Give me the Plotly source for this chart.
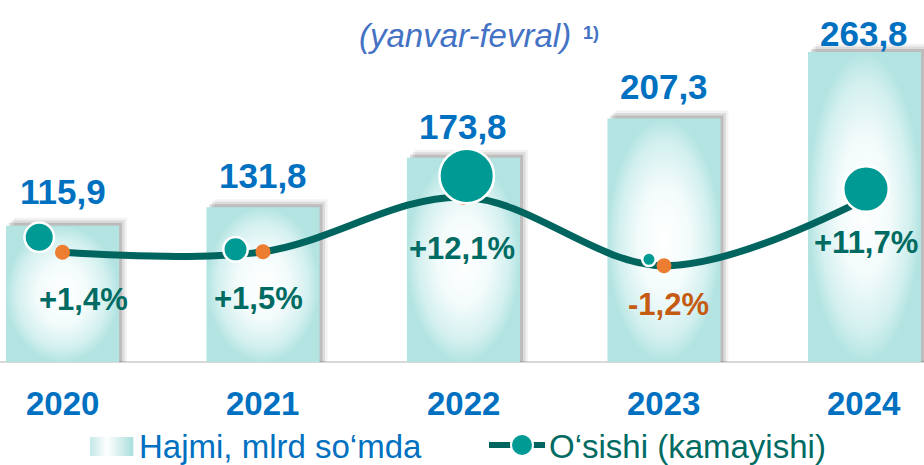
import numpy as np
import plotly.graph_objects as go

# ---------------- data ----------------
years = ["2020", "2021", "2022", "2023", "2024"]
volume = [115.9, 131.8, 173.8, 207.3, 263.8]          # Hajmi, mlrd so'mda
growth = [1.4, 1.5, 12.1, -1.2, 11.7]                 # O'sishi (kamayishi), %
volume_labels = ["115,9", "131,8", "173,8", "207,3", "263,8"]
growth_labels = ["+1,4%", "+1,5%", "+12,1%", "-1,2%", "+11,7%"]
legend_volume = "Hajmi, mlrd so‘mda"
legend_growth = "O‘sishi (kamayishi)"
subtitle = "(yanvar-fevral)"
footnote = "1)"

# ---------------- style ----------------
W, H = 924, 465
FONT = "Liberation Sans, Arial, Helvetica, sans-serif"
BLUE = "#0070c0"
SUB_BLUE = "#4472c4"
TEAL_TXT = "#006b63"
LINE = "#00655e"
CIRCLE = "#009a94"
ORANGE = "#ed7d31"
ORANGE_TXT = "#c55a11"
BAR_EDGE = "#b3e4e2"

PX_X = 200.5      # pixels per category
PX_Y = 1.175      # pixels per volume unit
half = 0.282      # half bar width (category units)

bub_dx = [-0.116, -0.137, 0.016, -0.075, 0.0075]
bub_dy = [2.91, 0.47, 4.12, 1.24, 2.0]
bub_size = [29.5, 24.5, 54.5, 13.5, 45.5]
val_dy = [34, 32, 31, 32, 19]
pct_dy = [-47, -47, -51, -39, -43]
pct_dx = [21, -4, -1.5, 4.5, 1.5]

xs = list(range(len(years)))
fig = go.Figure()

# soft shadow behind the bars (offset up/right)
for dpx, alpha in [(8, 0.05), (5.5, 0.09), (3, 0.14)]:
    fig.add_trace(go.Bar(
        x=xs, y=[v + dpx / PX_Y for v in volume], base=0,
        width=2 * half, offset=-half + dpx / PX_X,
        marker=dict(color=f"rgba(0,0,0,{alpha})", line=dict(width=0)),
        hoverinfo="skip", showlegend=False))

# bar faces with radial gradient
for i, v in zip(xs, volume):
    fig.add_trace(go.Scatter(
        x=[i - half, i + half, i + half, i - half, i - half],
        y=[0, 0, v, v, 0], fill="toself", mode="lines",
        line=dict(width=0, color="rgba(0,0,0,0)"),
        fillgradient=dict(type="radial",
                          colorscale=[[0, "#ffffff"], [0.45, "#f3fbfb"],
                                      [0.8, "#d3f0ef"], [1, BAR_EDGE]]),
        hoverinfo="skip", showlegend=False, name=legend_volume))

# growth line
fig.add_trace(go.Scatter(
    x=xs, y=growth, yaxis="y2", mode="lines+markers",
    line=dict(color=LINE, width=7, shape="spline", smoothing=1),
    marker=dict(size=15, color=ORANGE, line=dict(width=0), opacity=1),
    hoverinfo="skip", showlegend=False, name=legend_growth))

# bubbles
fig.add_trace(go.Scatter(
    x=[x + d for x, d in zip(xs, bub_dx)],
    y=[g + d for g, d in zip(growth, bub_dy)], yaxis="y2", mode="markers",
    marker=dict(size=bub_size, color=CIRCLE, opacity=1,
                line=dict(color="white", width=2.5)),
    hoverinfo="skip", showlegend=False))

ann = []
for i in xs:
    ann.append(dict(x=i, y=volume[i], xref="x", yref="y", yanchor="middle",
                    yshift=val_dy[i], showarrow=False,
                    text=f"<b>{volume_labels[i]}</b>",
                    font=dict(family=FONT, size=35, color=BLUE)))
    ann.append(dict(x=i, y=growth[i], xref="x", yref="y2", yanchor="middle",
                    yshift=pct_dy[i], xshift=pct_dx[i], showarrow=False,
                    text=f"<b>{growth_labels[i]}</b>",
                    font=dict(family=FONT, size=31,
                              color=ORANGE_TXT if growth[i] < 0 else TEAL_TXT)))
    ann.append(dict(x=i, y=1 - 403.5 / H, xref="x", yref="paper", yanchor="middle",
                    showarrow=False, text=f"<b>{years[i]}</b>",
                    font=dict(family=FONT, size=33, color=BLUE)))

def py(p):
    return 1 - p / H

def px(p):
    return p / W

ann.append(dict(x=px(465), y=py(36), xref="paper", yref="paper", xanchor="center",
                yanchor="middle", showarrow=False, text=f"<i>{subtitle}</i>",
                font=dict(family=FONT, size=33, color=SUB_BLUE)))
ann.append(dict(x=px(581), y=py(33), xref="paper", yref="paper", xanchor="left",
                yanchor="middle", showarrow=False, text=f"<b>{footnote}</b>",
                font=dict(family=FONT, size=18, color=SUB_BLUE)))
ann.append(dict(x=px(137), y=py(446), xref="paper", yref="paper", xanchor="left",
                yanchor="middle", showarrow=False, text=legend_volume,
                font=dict(family=FONT, size=33, color=BLUE)))
ann.append(dict(x=px(547), y=py(446), xref="paper", yref="paper", xanchor="left",
                yanchor="middle", showarrow=False, text=legend_growth,
                font=dict(family=FONT, size=33, color=TEAL_TXT)))

shapes = []
# legend gradient swatch
x0, x1, y0, y1 = 90, 133, 437, 456
n = 22
edge = np.array([0xa8, 0xde, 0xdc])
for k in range(n):
    t = (k + 0.5) / n
    w = max(0.0, 1 - abs(t - 0.4) / 0.6)
    c = (edge + (255 - edge) * w).astype(int)
    shapes.append(dict(type="rect", xref="paper", yref="paper",
                       x0=px(x0 + (x1 - x0) * k / n), x1=px(x0 + (x1 - x0) * (k + 1) / n + 0.3),
                       y0=py(y1), y1=py(y0), line=dict(width=0),
                       fillcolor=f"rgb({c[0]},{c[1]},{c[2]})"))
# legend line + bubble icon
shapes.append(dict(type="line", xref="paper", yref="paper", x0=px(489), x1=px(545),
                   y0=py(445), y1=py(445), line=dict(color=LINE, width=6)))
shapes.append(dict(type="circle", xref="paper", yref="paper", x0=px(511), x1=px(533),
                   y0=py(456), y1=py(434), fillcolor=CIRCLE,
                   line=dict(color="white", width=2)))

fig.update_layout(
    width=W, height=H, margin=dict(l=0, r=0, t=0, b=0),
    paper_bgcolor="white", plot_bgcolor="white",
    showlegend=False, barmode="overlay",
    xaxis=dict(range=[-0.3117, 4.2968], visible=False, fixedrange=True),
    yaxis=dict(range=[-(H - 362) / PX_Y, 362 / PX_Y], showgrid=False,
               showticklabels=False, ticks="", zeroline=True,
               zerolinecolor="#d9d9d9", zerolinewidth=2, fixedrange=True),
    yaxis2=dict(range=[1.4 - (H - 252.3) / 5.15, 1.4 + 252.3 / 5.15],
                overlaying="y", visible=False, fixedrange=True),
    annotations=ann, shapes=shapes,
    font=dict(family=FONT),
)

fig.write_html("out.html", config={"displayModeBar": False},
               post_script="document.body.style.margin='0';document.body.style.overflow='hidden';")
